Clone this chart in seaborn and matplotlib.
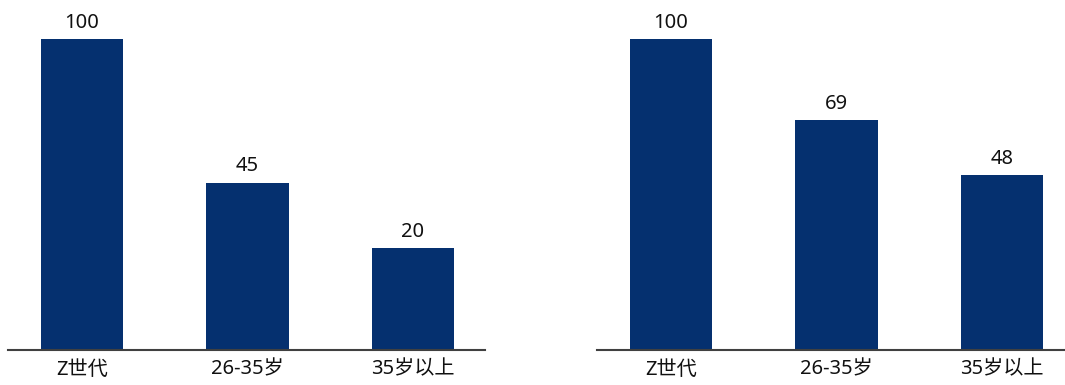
import matplotlib
matplotlib.use("Agg")
import matplotlib.pyplot as plt
import seaborn as sns
import pandas as pd

categories = ["Z世代", "26-35岁", "35岁以上"]
left_values = [100, 45, 20]
right_values = [100, 69, 48]

sns.set_theme(style="white")
plt.rcParams["font.family"] = ["Noto Sans", "Noto Sans CJK SC", "DejaVu Sans"]

BAR_COLOR = "#05306F"
Y_MIN, Y_MAX = -19.0, 114.9
X_MIN, X_MAX = -0.447, 2.435

fig = plt.figure(figsize=(10.65, 3.85), dpi=100)
W, H = 1065.0, 385.0
ax_h = 350.0 / H
ax_bottom = 1 - ax_h
axes = [
    fig.add_axes([8 / W, ax_bottom, 477 / W, ax_h]),
    fig.add_axes([597 / W, ax_bottom, 477 / W, ax_h]),
]

for ax, values in zip(axes, [left_values, right_values]):
    df = pd.DataFrame({"category": categories, "value": values})
    sns.barplot(data=df, x="category", y="value", color=BAR_COLOR,
                saturation=1, width=0.5, ax=ax)
    # bars run from the bottom of the axis up to their value
    for p in ax.patches:
        top = p.get_y() + p.get_height()
        p.set_y(Y_MIN)
        p.set_height(top - Y_MIN)
        p.set_edgecolor("none")
    ax.set_xlim(X_MIN, X_MAX)
    ax.set_ylim(Y_MIN, Y_MAX)
    for i, v in enumerate(values):
        ax.annotate(f"{v}", xy=(i, v), xytext=(0, 4.5), textcoords="offset points",
                    ha="center", va="bottom", fontsize=14.5, color="#111111")
    ax.set_xlabel("")
    ax.set_ylabel("")
    ax.set_yticks([])
    ax.tick_params(axis="x", length=0, pad=7, labelsize=14.5, labelcolor="#111111")
    for side in ["top", "left", "right"]:
        ax.spines[side].set_visible(False)
    ax.spines["bottom"].set_color("#404040")
    ax.spines["bottom"].set_linewidth(1.5)
    ax.patch.set_alpha(0)

fig.savefig("out.png", dpi=100)
